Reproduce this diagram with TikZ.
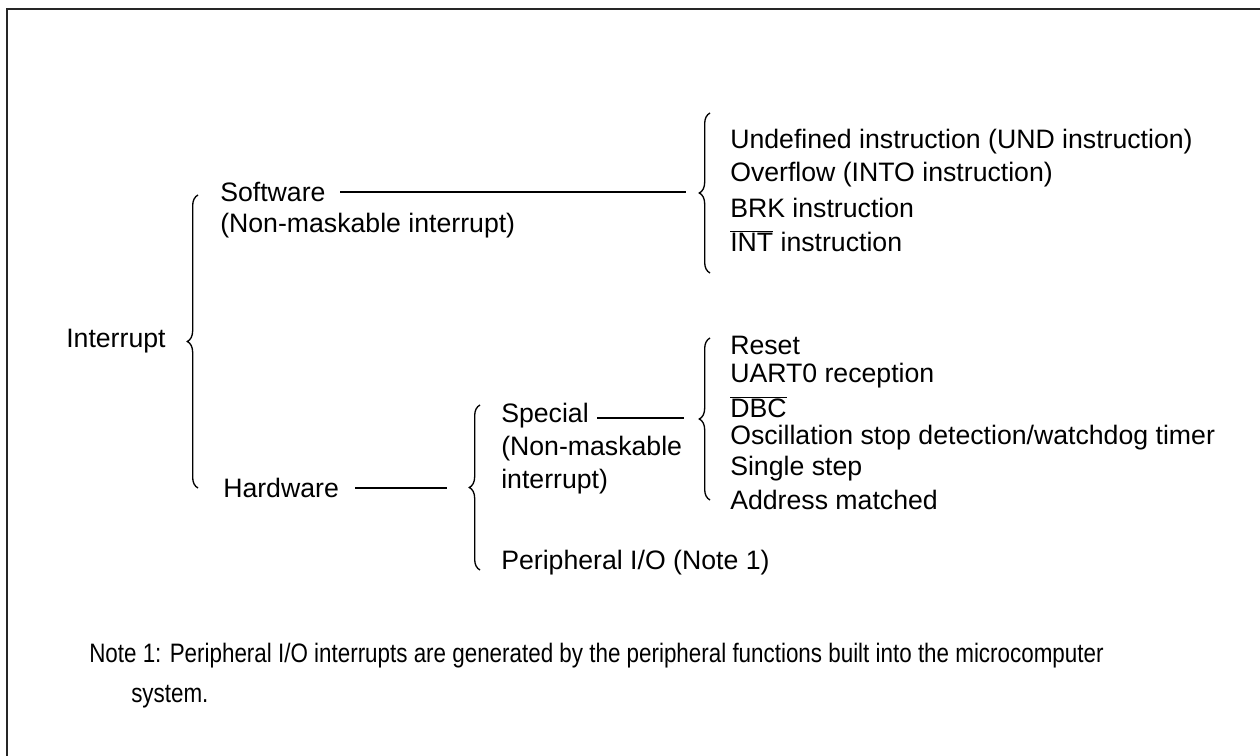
\documentclass[tikz,border=0pt]{standalone}
\usepackage{fontspec}
\setmainfont{Liberation Sans}
\newfontfamily\notefont{Liberation Sans}[FakeStretch=0.84]
\usetikzlibrary{decorations.pathreplacing}

\begin{document}
\begin{tikzpicture}[x=0.75pt,y=0.75pt,yscale=-1,xscale=1,
        lbl/.style={anchor=west,inner sep=0.75pt,font=\fontsize{20}{24}\selectfont},
        notetext/.style={anchor=west,inner sep=0.75pt,font=\notefont\fontsize{20}{24}\selectfont},
        curly/.style={decorate,decoration={brace,amplitude=8pt},line width=1pt},
        branch/.style={line width=1.5pt}]
        \useasboundingbox (0,0) rectangle (1260,756);
        % frame (cut at right and bottom)
        \draw [line width=2pt, draw=black!85] (7,756) -- (7,9) -- (1260,9);

        % first level
        \node (intr) at (65,341) [lbl] {Interrupt};
        \coordinate (b1top) at (198,195);
        \coordinate (b1bot) at (198,488);
        \draw [curly] (b1bot) -- (b1top);

        % software
        \node (sw) at (219,192) [lbl] {Software};
        \node (swnm) at (219,226) [lbl] {(Non-maskable interrupt)};
        \coordinate (swl) at (340,192);
        \coordinate (b2tip) at (686,192);
        \draw [branch] (swl) -- (b2tip);
        \coordinate (b2top) at (710,113);
        \coordinate (b2bot) at (710,273);
        \draw [curly] (b2bot) -- (b2top);
        \node (und) at (729,142) [lbl] {Undefined instruction (UND instruction)};
        \node (into) at (729,175) [lbl] {Overflow (INTO instruction)};
        \node (brk) at (729,208) [lbl] {BRK instruction};
        \node (int) at (729,241) [lbl] {$\overline{\mbox{INT}}$ instruction};

        % hardware
        \node (hw) at (222,488) [lbl] {Hardware};
        \coordinate (hwl) at (355,488);
        \coordinate (b3tip) at (447,488);
        \draw [branch] (hwl) -- (b3tip);
        \coordinate (b3top) at (480,405);
        \coordinate (b3bot) at (480,570);
        \draw [curly] (b3bot) -- (b3top);
        \node (spc) at (500,416) [lbl] {Special};
        \node (spcnm) at (500,449) [lbl] {(Non-maskable};
        \node (spcnm2) at (500,482) [lbl] {interrupt)};
        \node (pio) at (500,563) [lbl] {Peripheral I/O (Note 1)};
        \coordinate (spcl) at (597,418);
        \coordinate (b4tip) at (684,418);
        \draw [branch] (spcl) -- (b4tip);
        \coordinate (b4top) at (710,338);
        \coordinate (b4bot) at (710,500);
        \draw [curly] (b4bot) -- (b4top);
        \node (rst) at (729,345) [lbl] {Reset};
        \node (uart) at (729,376) [lbl] {UART0 reception};
        \node (dbc) at (729,407) [lbl] {$\overline{\mbox{DBC}}$};
        \node (osc) at (729,438) [lbl] {Oscillation stop detection/watchdog timer};
        \node (sstep) at (729,469) [lbl] {Single step};
        \node (addr) at (729,500) [lbl] {Address matched};

        % note
        \node (note) at (88,656) [notetext] {Note 1: Peripheral I/O interrupts are generated by the peripheral functions built into the microcomputer};
        \node (note2) at (130,697) [notetext] {system.};
\end{tikzpicture}
\end{document}
